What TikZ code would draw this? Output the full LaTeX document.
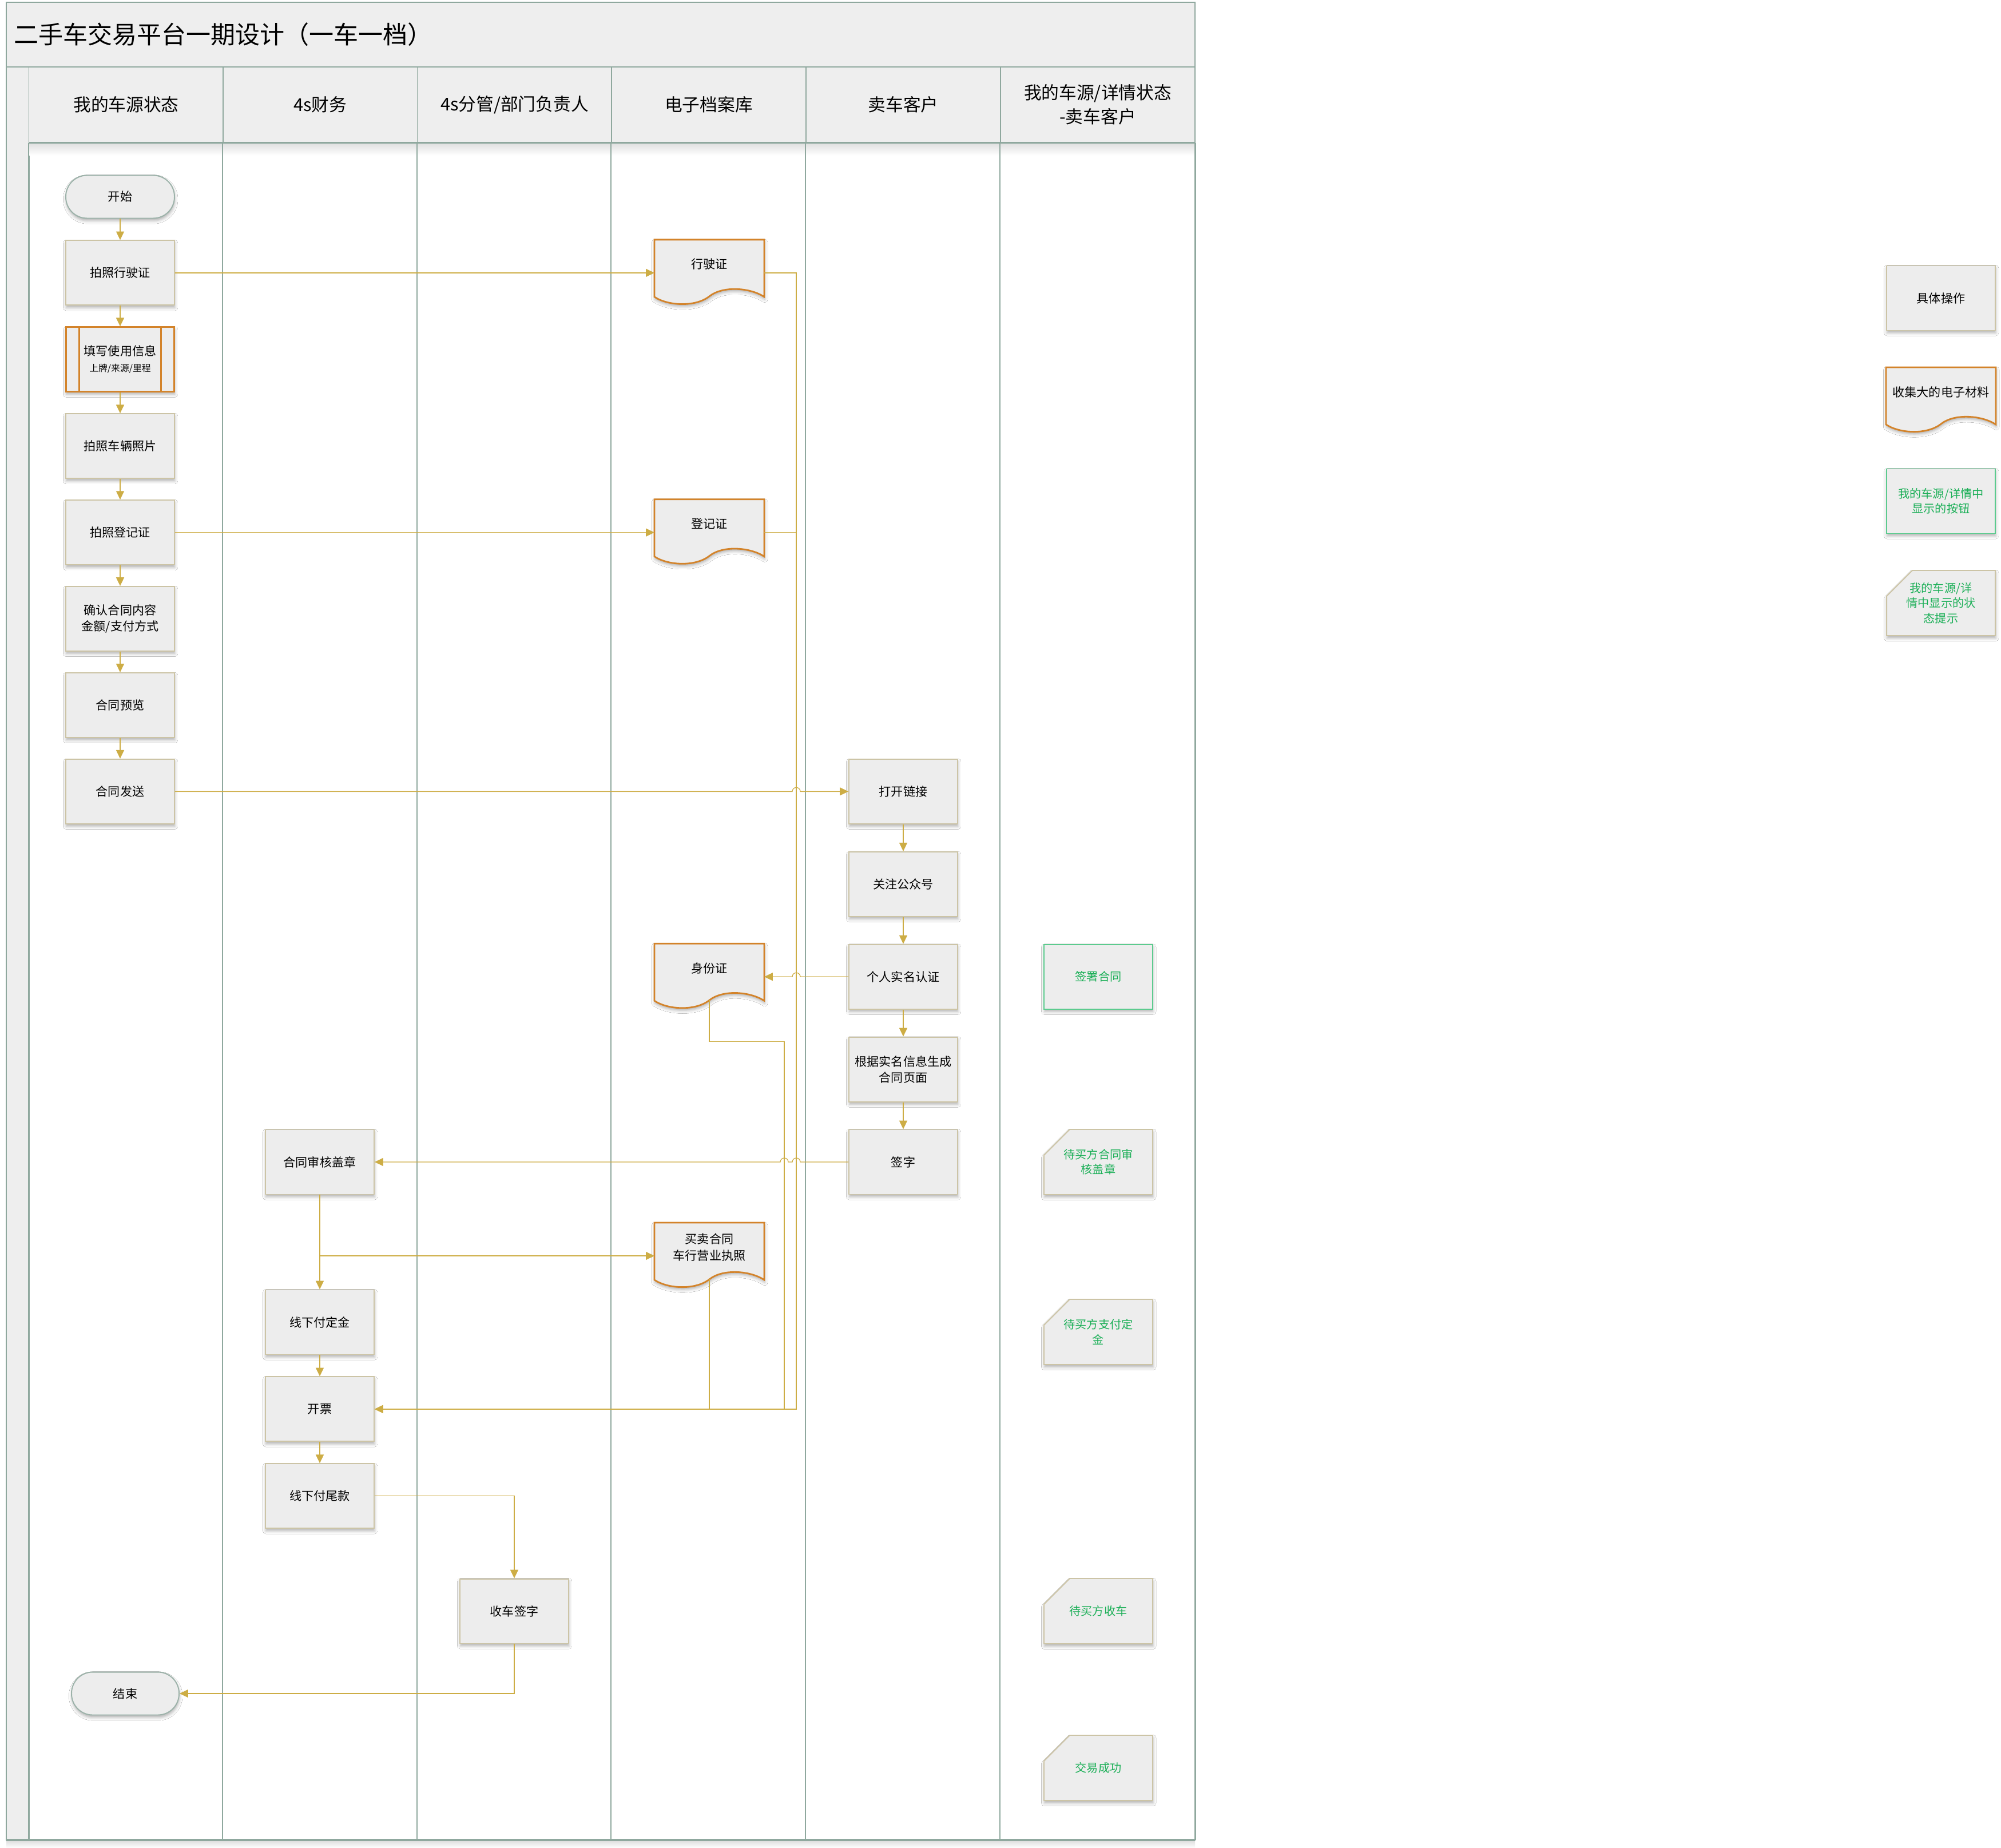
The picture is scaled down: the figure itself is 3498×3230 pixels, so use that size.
\documentclass[tikz,border=0pt]{standalone}
\usepackage{fontspec}
\setmainfont{Noto Sans CJK SC}
\usepackage{xcolor}
\usepackage{tikz}
\usetikzlibrary{arrows.meta,positioning,calc,shadows.blur}

\definecolor{lanegray}{HTML}{8FA89E}
\definecolor{paper}{HTML}{EEEEEE}
\definecolor{boxfill}{HTML}{EDEDED}
\definecolor{boxline}{HTML}{CCC4A6}
\definecolor{docorange}{HTML}{D3832A}
\definecolor{flowgold}{HTML}{CDAD45}
\definecolor{okgreen}{HTML}{5CCB8E}
\definecolor{oktext}{HTML}{1BAF57}
\definecolor{termline}{HTML}{9CB2A9}

\newcommand{\titlefont}{\fontsize{24.5}{28}\selectfont}
\newcommand{\headfont}{\fontsize{17.5}{24}\selectfont}
\newcommand{\boxfont}{\fontsize{12}{16}\selectfont}
\newcommand{\subfont}{\fontsize{9}{12}\selectfont}
\newcommand{\statfont}{\fontsize{11.5}{15}\selectfont}

\tikzset{
    softshadow/.style={blur shadow={shadow xshift=0.4pt, shadow yshift=-2.5pt, shadow blur radius=3pt, shadow opacity=30}},
    docshape/.style={draw=docorange, line width=1.6pt, fill=boxfill, softshadow},
    doctext/.style={align=center, font=\boxfont, inner sep=0pt, yshift=0.3cm},
    tipshape/.style={draw=boxline, line width=1.1pt, fill=boxfill, softshadow},
    tiptext/.style={align=center, text=oktext, font=\statfont, inner sep=0pt}
}

% document shape with its side points
\newcommand{\docnode}[3]{%
  \path[docshape, shift={#2}] (-96,-58) -- (96,-58) -- (96,42)
      .. controls (72,26) and (24,22) .. (0,41)
      .. controls (-24,60) and (-72,58) .. (-96,42) -- cycle;
  \path[shift={#2}] (-96,0) coordinate (#1-w) (96,0) coordinate (#1-e) (0,41) coordinate (#1-s);
  \node[doctext] (#1) at #2 {#3};}

% status tip with cut corner
\newcommand{\tipnode}[3]{%
  \path[tipshape, shift={#2}] (-50,-57) -- (95,-57) -- (95,57) -- (-95,57) -- (-95,-12) -- cycle;
  \node[tiptext] (#1) at #2 {#3};}

\begin{document}
\begin{tikzpicture}[
    x=0.02cm, y=-0.02cm,
    node distance=0.72cm,
    act/.style={rectangle, draw=boxline, line width=1.1pt, fill=boxfill, minimum width=3.8cm, minimum height=2.26cm, inner sep=2pt, align=center, font=\boxfont, softshadow},
    term/.style={act, rounded corners=0.74cm, draw=termline, minimum height=1.5cm},
    sub/.style={act, draw=docorange, line width=1.7pt, path picture={
        \draw[docorange, line width=1.7pt]
          ([xshift=0.46cm]path picture bounding box.north west) -- ([xshift=0.46cm]path picture bounding box.south west)
          ([xshift=-0.46cm]path picture bounding box.north east) -- ([xshift=-0.46cm]path picture bounding box.south east);}},
    stat/.style={act, draw=okgreen, text=oktext, font=\statfont},
    lanehead/.style={rectangle, draw=lanegray, line width=0.9pt, fill=paper, minimum width=6.8cm, minimum height=2.64cm, align=center, font=\headfont},
    laneline/.style={draw=lanegray, line width=0.9pt},
    arr/.style={-{Triangle[length=8.5pt,width=8pt]}, draw=flowgold, fill=none, line width=0.7pt},
    link/.style={draw=flowgold, line width=0.7pt}
]
\fill[white] (0,0) rectangle (3498,3230);
\useasboundingbox (0,0) rectangle (3498,3230);

% pool and lanes
\draw[laneline, fill=paper] (11,4) rectangle (2089,117);
\node[anchor=west, font=\titlefont] (title) at (18,60) {二手车交易平台一期设计（一车一档）};
\draw[laneline, fill=paper] (11,117) rectangle (51,3216);
\node[lanehead] (hd1) at (220.5,183) {我的车源状态};
\node[lanehead] (hd2) at (560,183) {4s财务};
\node[lanehead] (hd3) at (899.5,183) {4s分管/部门负责人};
\node[lanehead] (hd4) at (1239,183) {电子档案库};
\node[lanehead] (hd5) at (1579,183) {卖车客户};
\node[lanehead] (hd6) at (1919,183) {我的车源/详情状态\\-卖车客户};
\shade[top color=black!12, bottom color=white] (51,251) rectangle (2089,272);
\coordinate (floor) at (0,3216);
\draw[laneline] (hd1.south west) -- (hd1.south west |- floor);
\draw[laneline] (hd2.south west) -- (hd2.south west |- floor);
\draw[laneline] (hd3.south west) -- (hd3.south west |- floor);
\draw[laneline] (hd4.south west) -- (hd4.south west |- floor);
\draw[laneline] (hd5.south west) -- (hd5.south west |- floor);
\draw[laneline] (hd6.south west) -- (hd6.south west |- floor);
\draw[laneline] (hd6.south east) -- (hd6.south east |- floor);
\draw[laneline, line width=1.8pt] (hd1.south west) -- (hd6.south east);
\draw[laneline] (11,4) rectangle (2089,3216);
\shade[top color=black!12, bottom color=white] (11,3218) rectangle (2089,3230);
\draw[laneline, line width=1.8pt] (11,3216) -- (2089,3216);

% my car source
\node[term] (start) at (210,344) {开始};
\node[act, below=0.74cm of start] (pzxsz) {拍照行驶证};
\node[sub, below=of pzxsz] (txsy) {填写使用信息\\{\subfont 上牌/来源/里程}};
\node[act, below=of txsy] (pzcl) {拍照车辆照片};
\node[act, below=of pzcl] (pzdjz) {拍照登记证};
\node[act, below=of pzdjz] (qrht) {确认合同内容\\金额/支付方式};
\node[act, below=of qrht] (htyl) {合同预览};
\node[act, below=of htyl] (htfs) {合同发送};
\node[term, minimum width=3.76cm] (finish) at (219,2960) {结束};

% seller
\node[act] (dklj) at (1579,0 |- htfs) {打开链接};
\node[act, below=0.94cm of dklj] (gzgzh) {关注公众号};
\node[act, below=0.94cm of gzgzh] (grsm) {个人实名认证};
\node[act, below=0.94cm of grsm] (scht) {根据实名信息生成\\合同页面};
\node[act, below=0.94cm of scht] (qz) {签字};

% finance
\node[act] (htsh) at (559,0 |- qz) {合同审核盖章};
\node[act] (xxfdj) at (559,2311) {线下付定金};
\node[act, below=0.74cm of xxfdj] (kp) {开票};
\node[act, below=0.74cm of kp] (xxfwk) {线下付尾款};

% manager
\node[act] (scqz) at (899,2816) {收车签字};

% archive
\docnode{xsz}{(1240,0 |- pzxsz)}{行驶证}
\docnode{djz}{(1240,0 |- pzdjz)}{登记证}
\docnode{sfz}{(1240,0 |- grsm)}{身份证}
\docnode{mmht}{(1240,2195)}{买卖合同\\车行营业执照}

% status column
\node[stat] (qsht) at (1920,0 |- grsm) {签署合同};
\tipnode{dsh}{(1920,0 |- qz)}{待买方合同审\\核盖章}
\tipnode{ddj}{(1920,2328)}{待买方支付定\\金}
\tipnode{dsc}{(1920,0 |- scqz)}{待买方收车}
\tipnode{cg}{(1920,3090)}{交易成功}

% legend
\node[act] (lgact) at (3393,521) {具体操作};
\docnode{lgdoc}{(3393,700)}{收集大的电子材料}
\node[stat] (lgbtn) at (3393,876) {我的车源/详情中\\显示的按钮};
\tipnode{lgtip}{(3393,1054)}{我的车源/详\\情中显示的状\\态提示}

% connectors
\coordinate (busR) at (1392,0);
\coordinate (busL) at (1371,0);
\draw[arr] (start) -- (pzxsz);
\draw[arr] (pzxsz) -- (txsy);
\draw[arr] (txsy) -- (pzcl);
\draw[arr] (pzcl) -- (pzdjz);
\draw[arr] (pzdjz) -- (qrht);
\draw[arr] (qrht) -- (htyl);
\draw[arr] (htyl) -- (htfs);
\draw[arr] (pzxsz.east) -- (xsz-w);
\draw[arr] (pzdjz.east) -- (djz-w);
\draw[arr] (htfs.east) -- ($(htfs.east -| busR)+(-7,0)$) arc[start angle=180, end angle=0, radius=0.14cm] -- (dklj.west);
\draw[arr] (dklj) -- (gzgzh);
\draw[arr] (gzgzh) -- (grsm);
\draw[arr] (grsm) -- (scht);
\draw[arr] (scht) -- (qz);
\draw[arr] (grsm.west) -- ($(grsm.west -| busR)+(7,0)$) arc[start angle=0, end angle=180, radius=0.14cm] -- (sfz-e);
\draw[arr] (qz.west) -- ($(qz.west -| busR)+(7,0)$) arc[start angle=0, end angle=180, radius=0.14cm]
    -- ($(qz.west -| busL)+(7,0)$) arc[start angle=0, end angle=180, radius=0.14cm] -- (htsh.east);
\draw[arr] (htsh) -- (xxfdj);
\draw[arr] (htsh.south |- mmht-w) -- (mmht-w);
\draw[arr] (xxfdj) -- (kp);
\draw[arr] (kp) -- (xxfwk);
\draw[arr] (xsz-e) -- (xsz-e -| busR) |- (kp.east);
\draw[link] (djz-e) -- (djz-e -| busR);
\draw[arr] (sfz-s) -- ++(0,72) -| (busL |- kp.east) -- (kp.east);
\draw[arr] (mmht-s) |- (kp.east);
\draw[arr] (xxfwk.east) -| (scqz.north);
\draw[arr] (scqz.south) |- (finish.east);
\end{tikzpicture}
\end{document}
